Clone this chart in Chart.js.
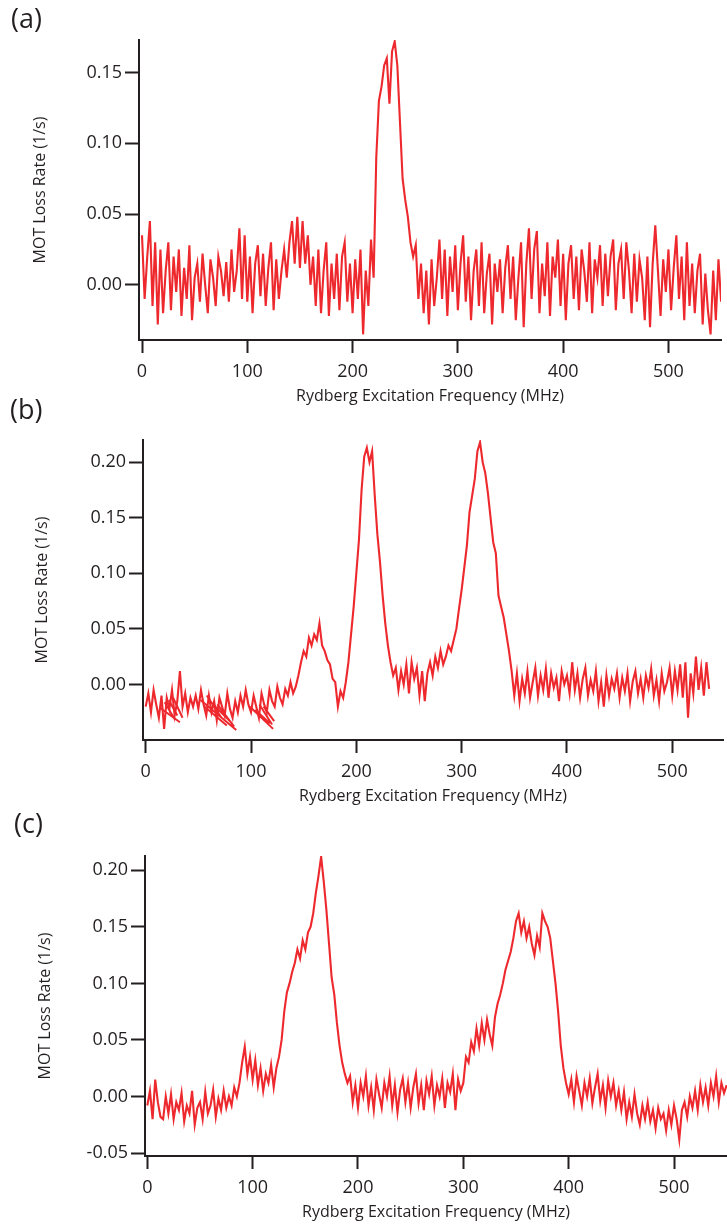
<!DOCTYPE html>
<html>
<head>
<meta charset="utf-8">
<script src="https://cdn.jsdelivr.net/npm/chart.js@4/dist/chart.umd.min.js"></script>
<style>
    body { margin: 0; background: #fff; width: 727px; height: 1226px; position: relative; overflow: hidden; font-family: 'Open Sans', sans-serif; }
    canvas { position: absolute; left: 0; }
    .tag { position: absolute; font-size: 27px; line-height: 1; color: #231f20; z-index: 2; }
</style>
</head>
<body>
<canvas id="chartA" width="727" height="410" style="top:0"></canvas>
<canvas id="chartB" width="727" height="410" style="top:400px"></canvas>
<canvas id="chartC" width="727" height="426" style="top:800px"></canvas>
<div class="tag" style="left:11px;top:4px">(a)</div>
<div class="tag" style="left:10px;top:395px">(b)</div>
<div class="tag" style="left:14px;top:809px">(c)</div>
<script>
const INK = '#231f20';
const RED = 'rgb(237, 41, 46)';

// samples are 2.5 MHz apart, starting at 0 MHz
const freqStep = 2.5;

const xTicks = [0, 100, 200, 300, 400, 500];
const yTicksA = [0, 0.05, 0.10, 0.15];
const yTicksB = [0, 0.05, 0.10, 0.15, 0.20];
const yTicksC = [-0.05, 0, 0.05, 0.10, 0.15, 0.20];

const xTitle = 'Rydberg Excitation Frequency (MHz)';
const yTitle = 'MOT Loss Rate (1/s)';

// (a) 0 .. 550 MHz
const lossA = [
    0.035, -0.01, 0.02, 0.045, -0.015, 0.03, -0.028, 0.025, -0.02, 0.01, 0.03, -0.018, 0.02, -0.005, 0.025, -0.022, 0.012, -0.01, 0.028, -0.025, 0.005,
    0.015, -0.012, 0.022, 0.0, -0.02, 0.018, 0.005, -0.015, 0.02, 0.01, -0.008, 0.016, -0.012, 0.025, -0.005, 0.01, 0.04, -0.01, 0.035, -0.012,
    0.02, -0.02, 0.015, 0.028, -0.008, 0.022, -0.015, 0.012, 0.03, -0.018, 0.018, -0.01, 0.01, 0.025, 0.005, 0.03, 0.045, 0.015, 0.048, 0.012,
    0.045, 0.015, 0.035, 0.0, 0.02, -0.015, 0.025, -0.02, 0.01, 0.03, -0.022, 0.015, -0.01, 0.022, -0.018, 0.02, 0.03, -0.012, 0.015, -0.02,
    0.018, -0.01, 0.025, -0.035, 0.01, -0.015, 0.032, 0.005,
    0.09, 0.13, 0.14, 0.155, 0.16, 0.128, 0.165, 0.172, 0.155, 0.115, 0.075, 0.06, 0.048, 0.03, 0.02, 0.028, -0.01, 0.015,
    -0.02, 0.01, -0.028, 0.018, -0.015, 0.005, 0.032, -0.01, 0.025, -0.022,
    0.02, -0.005, 0.028, -0.018, 0.015, 0.035, -0.012, 0.02, -0.025, 0.01,
    0.025, -0.015, 0.03, -0.02, 0.008, 0.022, -0.028, 0.015, -0.005, 0.018,
    -0.02, 0.012, 0.028, -0.01, 0.02, -0.025, 0.005, 0.03, -0.03, 0.015,
    0.04, -0.01, 0.025, 0.038, -0.02, 0.015, -0.008, 0.03, -0.022, 0.02,
    0.005, 0.032, -0.015, 0.022, -0.025, 0.015, 0.028, -0.01, 0.02, -0.018,
    0.025, 0.01, -0.012, 0.03, -0.02, 0.018, 0.005, 0.028, -0.015, 0.022,
    -0.008, 0.02, 0.032, -0.018, 0.015, 0.025, -0.01, 0.03, 0.01, -0.02,
    0.022, -0.012, 0.018, 0.005, -0.025, 0.02, -0.03, 0.015, 0.042, 0.01,
    -0.022, 0.018, -0.005, 0.025, -0.018, 0.012, 0.035, -0.01, 0.02, -0.025,
    0.03, -0.015, 0.015, -0.02, 0.01, 0.022, -0.028, 0.008, -0.018, -0.035,
    0.01, -0.025, 0.018, -0.012
];

// (b) 0 .. 535 MHz
const lossB = [
    -0.02, -0.008, -0.025, -0.005, -0.018, -0.03, -0.01, -0.04, -0.012, -0.022, -0.005, -0.028, -0.015, 0.012, -0.02, -0.008, -0.025, -0.012, -0.02, -0.01,
    -0.022, -0.005, -0.018, -0.028, -0.01, -0.025, -0.015, -0.032, -0.012, -0.02, -0.028, -0.008, -0.022, -0.03, -0.015, -0.025, -0.01, -0.02, -0.005, -0.018,
    -0.025, -0.01, -0.02, -0.03, -0.008, -0.018, -0.025, -0.005, -0.015, -0.02, -0.002, -0.012, -0.018, -0.004, -0.01, 0.002, -0.008, -0.002, 0.008, 0.02,
    0.03, 0.025, 0.042, 0.035, 0.045, 0.04, 0.055, 0.035, 0.03, 0.022, 0.018, 0.005, 0.002, -0.02, -0.006, -0.012, 0.002, 0.02, 0.045, 0.07,
    0.1, 0.13, 0.175, 0.205, 0.213, 0.2, 0.21, 0.17, 0.135, 0.11, 0.08, 0.055, 0.035, 0.02, 0.008, 0.015, -0.005, 0.012, 0.0, 0.018,
    -0.008, 0.02, 0.005, 0.015, -0.01, 0.012, -0.015, 0.01, 0.02, 0.008, 0.025, 0.015, 0.03, 0.018, 0.025, 0.035, 0.03, 0.04, 0.05, 0.068,
    0.085, 0.105, 0.125, 0.155, 0.17, 0.185, 0.21, 0.218, 0.2, 0.19, 0.172, 0.15, 0.128, 0.118, 0.08, 0.07, 0.06, 0.045, 0.03, 0.012,
    -0.01, 0.01, -0.015, 0.005, -0.008, 0.012, -0.012, 0.002, 0.015, -0.01, 0.008, -0.005, 0.014, -0.012, 0.01, -0.003, 0.006, -0.015, 0.012, 0.0,
    0.008, -0.008, 0.02, -0.005, 0.01, -0.012, 0.005, 0.015, -0.01, 0.004, -0.006, 0.012, -0.015, 0.002, -0.02, 0.008, -0.01, 0.005, -0.004, 0.01,
    -0.012, 0.006, -0.006, 0.01, -0.015, 0.003, 0.012, -0.008, 0.005, -0.012, 0.008, -0.003, 0.014, -0.01, 0.004, -0.015, 0.01, -0.006, 0.002, 0.015,
    -0.01, 0.012, -0.005, 0.018, -0.012, 0.02, -0.03, 0.01, -0.008, 0.025, -0.005, 0.015, -0.01, 0.02, -0.004
];

// (b) backward sweeps at low frequency: [fromMHz, fromRate, toMHz, toRate]
const retraceB = [
    [13.5, -0.021, 32.5, -0.034], [18, -0.016, 28, -0.032], [22, -0.014, 30, -0.028], [26, -0.012, 35, -0.03],
    [52, -0.014, 86, -0.041], [56, -0.02, 77, -0.037], [62, -0.016, 82, -0.035], [68, -0.018, 84, -0.038], [58, -0.01, 72, -0.03],
    [99, -0.02, 121, -0.04], [104, -0.023, 118, -0.035], [108, -0.018, 120, -0.036], [112, -0.02, 122, -0.033]
];

// (c) 0 .. 550 MHz
const lossC = [
    -0.008, 0.005, -0.02, 0.015, -0.005, -0.018, -0.02, 0.0, -0.015, 0.002, -0.02, -0.005, -0.012, 0.003, -0.022, -0.008, -0.015, 0.005, -0.025, -0.01,
    -0.005, -0.02, 0.004, -0.015, -0.008, 0.006, -0.018, -0.002, -0.012, 0.005, -0.01, 0.0, -0.008, 0.008, 0.0, 0.012, 0.03, 0.044, 0.02, 0.035,
    0.015, 0.032, 0.01, 0.025, 0.005, 0.02, 0.012, 0.028, 0.008, 0.025, 0.035, 0.05, 0.075, 0.092, 0.1, 0.11, 0.118, 0.13, 0.122, 0.138,
    0.13, 0.145, 0.15, 0.162, 0.18, 0.195, 0.212, 0.19, 0.165, 0.135, 0.105, 0.09, 0.065, 0.045, 0.03, 0.02, 0.012, 0.018, -0.005, 0.01,
    -0.01, 0.012, 0.0, 0.018, -0.008, 0.008, -0.012, 0.015, 0.002, -0.01, 0.012, 0.0, 0.018, -0.008, 0.01, -0.014, 0.006, 0.016, -0.005, 0.012,
    -0.01, 0.008, 0.02, -0.006, 0.01, -0.012, 0.014, 0.002, 0.018, -0.008, 0.01, 0.0, 0.016, -0.01, 0.012, 0.004, 0.02, -0.012, 0.015, 0.005,
    0.012, 0.035, 0.03, 0.048, 0.04, 0.06, 0.045, 0.065, 0.05, 0.068, 0.055, 0.045, 0.07, 0.082, 0.09, 0.1, 0.112, 0.12, 0.128, 0.14,
    0.155, 0.162, 0.145, 0.155, 0.14, 0.15, 0.135, 0.125, 0.142, 0.132, 0.162, 0.155, 0.15, 0.14, 0.12, 0.1, 0.075, 0.045, 0.025, 0.012,
    0.002, 0.015, -0.005, 0.018, 0.005, -0.008, 0.012, 0.0, 0.016, -0.006, 0.008, 0.02, -0.004, 0.01, -0.01, 0.014, 0.0, 0.012, -0.008, 0.005,
    -0.012, 0.004, -0.02, -0.005, -0.018, 0.002, -0.015, -0.025, -0.008, -0.02, -0.005, -0.022, -0.012, -0.028, -0.01, -0.02, -0.015, -0.03, -0.012, -0.025,
    -0.008, -0.02, -0.038, -0.012, -0.005, -0.018, 0.0, -0.01, 0.005, -0.012, 0.01, -0.005, 0.008, -0.008, 0.012, 0.0, 0.018, -0.005, 0.012, 0.003, 0.01
];

function toPoints(loss) {
    return loss.map((v, i) => ({ x: i * freqStep, y: v }));
}

function retracePoints(segs) {
    const pts = [];
    segs.forEach(s => {
        pts.push({ x: s[0], y: s[1] }, { x: s[2], y: s[3] }, { x: s[2], y: null });
    });
    return pts;
}

function renderChart(id, loss, extra, box) {
    const datasets = [{ data: toPoints(loss), borderColor: RED, borderWidth: 2.1, pointRadius: 0, tension: 0 }];
    if (extra) {
        datasets.push({ data: extra, borderColor: RED, borderWidth: 2, pointRadius: 0, tension: 0, spanGaps: false });
    }
    return new Chart(document.getElementById(id), {
        type: 'line',
        data: { datasets },
        options: {
            responsive: false,
            animation: false,
            events: [],
            layout: { padding: { top: box.top, right: box.right, left: 0, bottom: 0 } },
            plugins: { legend: { display: false }, tooltip: { enabled: false } },
            scales: {
                x: {
                    type: 'linear',
                    min: box.xMin,
                    max: box.xMax,
                    afterBuildTicks: s => { s.ticks = xTicks.map(v => ({ value: v })); },
                    afterFit: s => { s.height = 70; },
                    grid: { drawOnChartArea: false, drawTicks: true, tickLength: 13, tickWidth: 2, tickColor: INK },
                    border: { display: true, color: INK, width: 2 },
                    ticks: { color: INK, padding: 8, maxRotation: 0, font: { size: 18 }, callback: v => String(v) },
                    title: { display: true, text: xTitle, color: INK, font: { size: 16 }, padding: { top: 0, bottom: 4 } }
                },
                y: {
                    min: box.yMin,
                    max: box.yMax,
                    afterBuildTicks: s => { s.ticks = box.yTicks.map(v => ({ value: v })); },
                    afterFit: s => { s.width = box.left; },
                    grid: { drawOnChartArea: false, drawTicks: true, tickLength: 14, tickWidth: 2, tickColor: INK },
                    border: { display: true, color: INK, width: 2 },
                    ticks: { color: INK, padding: 3, font: { size: 18 }, callback: v => v.toFixed(2) },
                    title: { display: true, text: yTitle, color: INK, font: { size: 16 }, padding: { top: box.titleGap, bottom: 0 } }
                }
            }
        }
    });
}

Chart.defaults.font.family = "'Open Sans', sans-serif";

renderChart('chartA', lossA, null,
    { top: 40, right: 6, left: 139, titleGap: 31, xMin: -2.85, xMax: 549.9, yMin: -0.039, yMax: 0.173, yTicks: yTicksA });
renderChart('chartB', lossB, retracePoints(retraceB),
    { top: 40, right: 4, left: 143, titleGap: 33, xMin: -2.56, xMax: 548.2, yMin: -0.050, yMax: 0.220, yTicks: yTicksB });
renderChart('chartC', lossC, null,
    { top: 56, right: 0, left: 145, titleGap: 36, xMin: -2.2, xMax: 550.3, yMin: -0.0526, yMax: 0.2126, yTicks: yTicksC });
</script>
</body>
</html>
